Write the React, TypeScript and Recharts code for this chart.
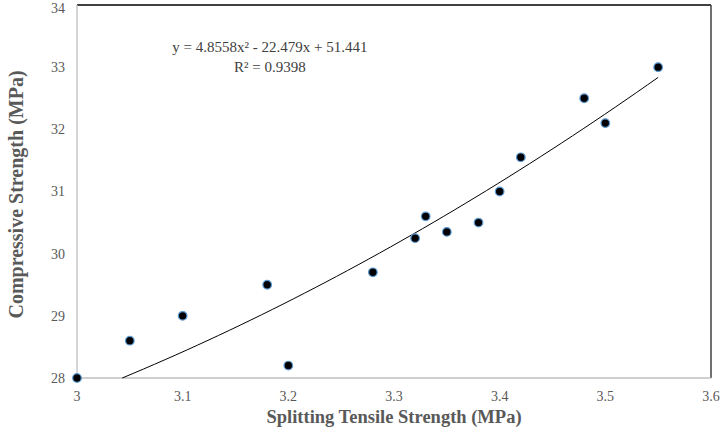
import React from 'react';
import { ScatterChart, Scatter, XAxis, YAxis, ReferenceLine, ReferenceDot } from 'recharts';

const splitting = [3.0, 3.05, 3.1, 3.18, 3.2, 3.28, 3.32, 3.33, 3.35, 3.38, 3.4, 3.42, 3.48, 3.5, 3.55];
const compressive = [28.0, 28.6, 29.0, 29.5, 28.2, 29.7, 30.25, 30.6, 30.35, 30.5, 31.0, 31.55, 32.5, 32.1, 33.0];
const xTicks = [3, 3.1, 3.2, 3.3, 3.4, 3.5, 3.6];
const yTicks = [28, 29, 30, 31, 32, 33, 34];
// trendline coefficients as printed on the chart: y = a x^2 + b x + c
const trendCoef = [4.8558, -22.479, 51.441];
const trendEnd = 3.55;
const yMin = 28;
const equationText = 'y = 4.8558x² - 22.479x + 51.441';
const r2Text = 'R² = 0.9398';

const points = splitting.map((x, i) => ({ x, y: compressive[i] }));
// the trendline is visible from where it crosses the bottom of the plot (y = 28)
const [a, b, c] = trendCoef;
const trendStart = (-b + Math.sqrt(b * b - 4 * a * (c - yMin))) / (2 * a);
const trend: { x: number; y: number }[] = [];
for (let k = 0; k <= 50; k++) {
  const x = trendStart + (k / 50) * (trendEnd - trendStart);
  trend.push({ x, y: a * x * x + b * x + c });
}

const FONT = '"Liberation Serif", "Times New Roman", serif';
const tickStyle = { fontFamily: FONT, fontSize: 14, fill: '#595959' };
const xTitleStyle = { fontFamily: FONT, fontSize: 18.5, fontWeight: 'bold', fill: '#595959' };
const yTitleStyle = { fontFamily: FONT, fontSize: 20, fontWeight: 'bold', fill: '#595959', textAnchor: 'middle' };

const Dot = (props: any) => {
  const { cx, cy } = props;
  return <circle cx={cx} cy={cy} r={4.3} fill="#000" stroke="#5b9bd5" strokeWidth={1.2} />;
};

const NoShape = () => null;

const TextLabel = (text: string) => (props: any) => {
  const { viewBox } = props;
  return (
    <text x={viewBox.x} y={viewBox.y} textAnchor="middle" dominantBaseline="central" style={{ fontFamily: FONT, fontSize: 15 }} fill="#404040">
      {text}
    </text>
  );
};

export default function App() {
  return (
    <div style={{ position: 'absolute', left: 0, top: 0, background: '#fff', fontFamily: FONT }}>
      <ScatterChart width={721} height={434} margin={{ top: 5, right: 10, bottom: 0, left: 0 }} style={{ fontFamily: FONT }}>
        <XAxis
          type="number"
          dataKey="x"
          domain={[3, 3.6]}
          ticks={xTicks}
          tickSize={0}
          tickMargin={13}
          tick={{ ...tickStyle, style: tickStyle }}
          axisLine={{ stroke: '#bfbfbf', strokeWidth: 1.3 }}
          height={56}
          label={{ value: 'Splitting Tensile Strength (MPa)', position: 'insideBottom', offset: 11, style: xTitleStyle }}
        />
        <YAxis
          type="number"
          dataKey="y"
          domain={[28, 34]}
          ticks={yTicks}
          tickSize={0}
          tickMargin={12}
          tick={{ ...tickStyle, style: tickStyle }}
          axisLine={{ stroke: '#bfbfbf', strokeWidth: 1.3 }}
          width={77}
          label={{ value: 'Compressive Strength (MPa)', angle: -90, position: 'insideLeft', offset: 16, dy: 3, style: yTitleStyle }}
        />
        <ReferenceLine y={34} stroke="#000" strokeWidth={1.5} />
        <ReferenceLine x={3.6} stroke="#404040" strokeWidth={1.5} />
        <Scatter data={trend} line={{ stroke: '#000', strokeWidth: 1 }} shape={NoShape} isAnimationActive={false} />
        <Scatter data={points} shape={Dot} isAnimationActive={false} />
        <ReferenceDot x={3.1826} y={33.32} r={0} fill="none" stroke="none" label={TextLabel(equationText)} />
        <ReferenceDot x={3.1826} y={33.01} r={0} fill="none" stroke="none" label={TextLabel(r2Text)} />
      </ScatterChart>
    </div>
  );
}
